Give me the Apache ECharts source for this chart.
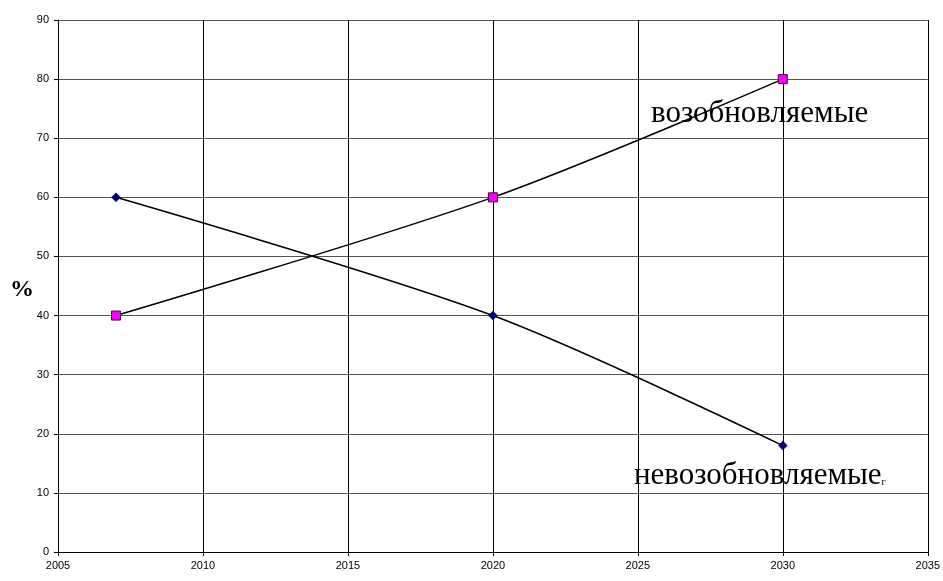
<!DOCTYPE html>
<html>
<head>
<meta charset="utf-8">
<script src="https://cdn.jsdelivr.net/npm/echarts@6/dist/echarts.min.js"></script>
<style>
  html, body { margin: 0; padding: 0; background: #fff; }
  #chart { width: 943px; height: 581px; }
</style>
</head>
<body>
<div id="chart"></div>
<script>
// Share of energy sources, % by year
const years = [2007, 2020, 2030];
const renewable = [40, 60, 80];       // возобновляемые
const nonRenewable = [60, 40, 18];    // невозобновляемые
const xTicks = { min: 2005, max: 2035, step: 5 };
const yTicks = { min: 0, max: 90, step: 10 };

const chart = echarts.init(document.getElementById('chart'));

const pairs = (xs, ys) => xs.map((x, i) => [x, ys[i]]);

chart.setOption({
  animation: false,
  backgroundColor: '#ffffff',
  grid: { left: 58, right: 14, top: 20, bottom: 29, containLabel: false },
  xAxis: {
    type: 'value',
    min: xTicks.min, max: xTicks.max, interval: xTicks.step,
    axisLine: { show: true, lineStyle: { color: '#000', width: 1 } },
    axisTick: { show: true, length: 4, lineStyle: { color: '#000' } },
    axisLabel: {
      color: '#000', fontFamily: 'Liberation Sans, Arial', fontSize: 11, margin: 8,
      formatter: v => String(v)
    },
    splitLine: { show: true, lineStyle: { color: '#000', width: 1 } }
  },
  yAxis: {
    type: 'value',
    min: yTicks.min, max: yTicks.max, interval: yTicks.step,
    axisLine: { show: true, lineStyle: { color: '#000', width: 1 } },
    axisTick: { show: true, length: 4, lineStyle: { color: '#000' } },
    axisLabel: { color: '#000', fontFamily: 'Liberation Sans, Arial', fontSize: 11, margin: 9 },
    splitLine: { show: true, lineStyle: { color: '#555', width: 1 } }
  },
  series: [
    {
      name: 'невозобновляемые',
      type: 'line',
      data: pairs(years, nonRenewable),
      smooth: 0.3,
      symbol: 'diamond',
      symbolSize: 9,
      itemStyle: { color: '#000080', borderColor: '#000040', borderWidth: 0.5 },
      lineStyle: { color: '#000', width: 1.5 },
      z: 3
    },
    {
      name: 'возобновляемые',
      type: 'line',
      data: pairs(years, renewable),
      smooth: 0.3,
      symbol: 'rect',
      symbolSize: 9,
      itemStyle: { color: '#ff00ff', borderColor: '#400040', borderWidth: 1 },
      lineStyle: { color: '#000', width: 1.5 },
      z: 4
    }
  ],
  graphic: [
    {
      type: 'text', left: 10, top: 278,
      style: { text: '%', font: 'bold 24px "Liberation Serif", "Times New Roman", serif', fill: '#000' }
    },
    {
      type: 'text', left: 651, top: 98,
      style: { text: 'возобновляемые', font: '31px "Liberation Serif", "Times New Roman", serif', fill: '#000' }
    },
    {
      type: 'text', left: 634, top: 460,
      style: {
        text: '{a|невозобновляемые}{b|г}',
        rich: {
          a: { font: '31px "Liberation Serif", "Times New Roman", serif', color: '#000' },
          b: { font: '10px "Liberation Serif", "Times New Roman", serif', color: '#000', padding: [14, 0, 0, 0] }
        }
      }
    }
  ]
});
</script>
</body>
</html>
